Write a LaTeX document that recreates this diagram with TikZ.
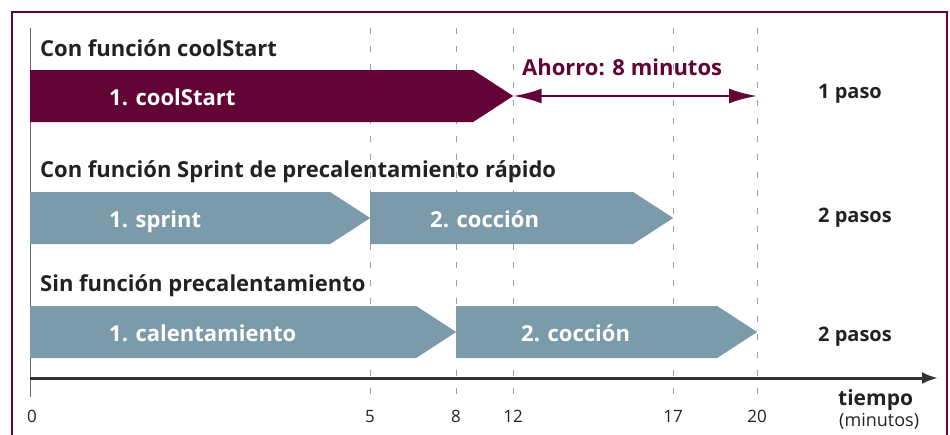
\documentclass[tikz,border=0pt]{standalone}
\usepackage{fontspec}
\setmainfont{Open Sans}
\usetikzlibrary{positioning, shapes.symbols, arrows.meta}

\definecolor{vino}{RGB}{99,4,54}
\definecolor{pizarra}{RGB}{123,155,171}
\definecolor{guia}{RGB}{140,162,176}
\definecolor{tinta}{RGB}{34,34,34}

\begin{document}
\begin{tikzpicture}[
    x=1pt, y=-1pt,
    title/.style={anchor=base west, inner sep=0pt, text=tinta, font=\fontsize{22}{26}\selectfont\bfseries},
    stage/.style={shape=signal, signal to=east, signal pointer angle=66, fill=#1, minimum height=52pt, inner sep=0pt, anchor=west},
    barlabel/.style={anchor=base west, inner sep=0pt, text=white, font=\fontsize{22}{26}\selectfont\bfseries},
    steps/.style={anchor=base west, inner sep=0pt, text=tinta, font=\fontsize{20}{24}\selectfont\bfseries},
    tick/.style={anchor=base, inner sep=0pt, text=tinta, font=\fontsize{17}{20}\selectfont},
    guide/.style={guia, line width=1pt, dash pattern=on 6pt off 12pt}
]
\useasboundingbox (0,0) rectangle (950,434);

%%%%% Frame and guide lines
\draw[vino, line width=2pt] (12,12) rectangle (947,460);
\draw[black!60, line width=1pt] (30,28) -- (30,397);
\foreach \t/\x in {5/370, 8/456, 12/513, 17/673, 20/757} {
    \draw[guide] (\x,28) -- (\x,397);
    \node[tick] (t\t) at (\x,422) {\t};
}
\node[tick] (t0) at (32,422) {0};

%%%%% Row 1: coolStart
\node[title] (tcool) at (40,56) {Con función coolStart};
\node[stage=vino, minimum width=483pt] (cool) at (30,96) {};
\node[barlabel] (lcool) at (109,105) {1. coolStart};
\coordinate (fin) at (757,96);
\draw[vino, line width=2.5pt, {Latex[length=28pt, width=15pt]}-{Latex[length=28pt, width=15pt]}] (cool.east) -- (fin);
\node[anchor=base west, inner sep=0pt, text=vino, font=\fontsize{22}{26}\selectfont\bfseries] (ahorro) at (522,75) {Ahorro: 8 minutos};
\node[steps] (p1) at (818,98) {1 paso};

%%%%% Row 2: Sprint
\node[title] (tsprint) at (40,177) {Con función Sprint de precalentamiento rápido};
\node[stage=pizarra, minimum width=340pt] (sprint) at (30,218) {};
\node[stage=pizarra, minimum width=303pt] (coc2) at (370,218) {};
\node[barlabel] (lsprint) at (109,227) {1. sprint};
\node[barlabel] (lcoc2) at (430,227) {2. cocción};
\node[steps] (p2) at (818,222) {2 pasos};

%%%%% Row 3: without preheating
\node[title] (tsin) at (40,291) {Sin función precalentamiento};
\node[stage=pizarra, minimum width=426pt] (cal) at (30,332) {};
\node[stage=pizarra, minimum width=301pt] (coc3) at (456,332) {};
\node[barlabel] (lcal) at (109,341) {1. calentamiento};
\node[barlabel] (lcoc3) at (521,341) {2. cocción};
\node[steps] (p3) at (818,341) {2 pasos};

%%%%% Time axis
\coordinate (o) at (30,378);
\coordinate (e) at (938,378);
\draw[black!80, line width=3pt, -{Latex[length=16pt, width=12pt]}] (o) -- (e);
\node[anchor=base west, inner sep=0pt, text=tinta, font=\fontsize{21}{24}\selectfont\bfseries] (tiempo) at (838,405) {tiempo};
\node[anchor=base west, inner sep=0pt, text=tinta, font=\fontsize{18}{20}\selectfont] (minutos) at (839,426) {(minutos)};

\end{tikzpicture}
\end{document}
